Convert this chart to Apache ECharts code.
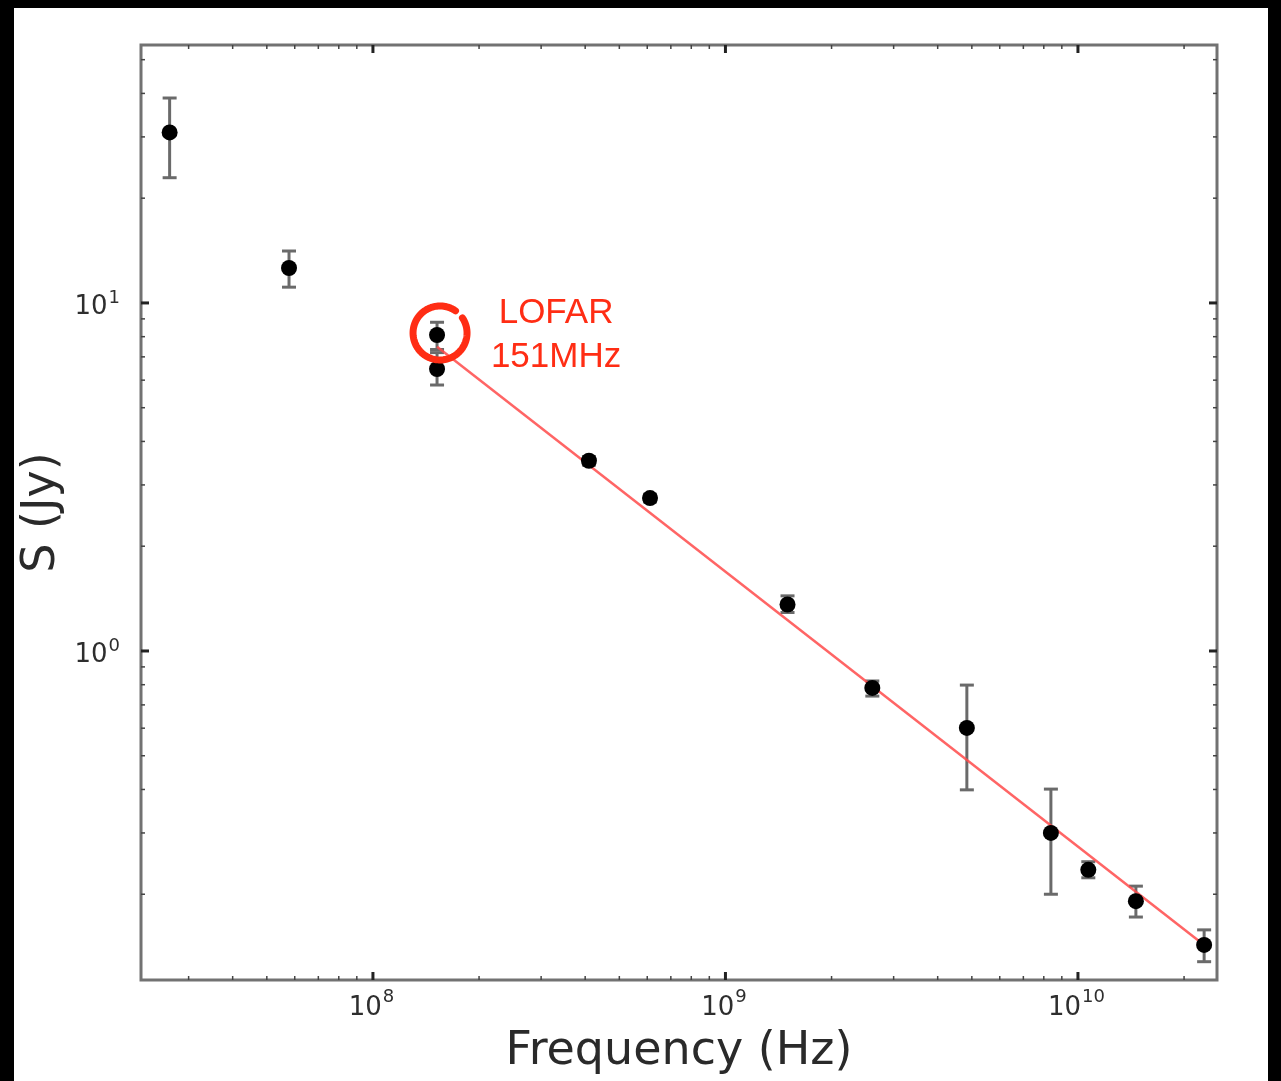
<!DOCTYPE html>
<html>
<head>
<meta charset="utf-8">
<script src="https://cdn.jsdelivr.net/npm/echarts/dist/echarts.min.js"></script>
<style>
html,body{margin:0;padding:0;background:#000;width:1281px;height:1081px;overflow:hidden;}
#bg{position:absolute;left:14px;top:8px;width:1254px;height:1073px;background:#fff;}
#chart{position:absolute;left:0;top:0;width:1281px;height:1081px;}
</style>
</head>
<body>
<div id="bg"></div>
<div id="chart"></div>
<script>
// ---- data ----
const freq    = [2.65e7, 5.78e7, 1.52e8, 1.52e8, 4.10e8, 6.11e8, 1.50e9, 2.61e9, 4.84e9, 8.38e9, 1.07e10, 1.46e10, 2.28e10];
const flux    = [30.9, 12.6, 8.09, 6.46, 3.52, 2.75, 1.36, 0.783, 0.601, 0.300, 0.235, 0.191, 0.143];
const errLow  = [22.9, 11.1, 7.35, 5.81, 3.42, 2.68, 1.29, 0.742, 0.399, 0.200, 0.223, 0.172, 0.128];
const errHigh = [38.8, 14.1, 8.80, 7.20, 3.62, 2.82, 1.44, 0.820, 0.798, 0.401, 0.248, 0.211, 0.158];
const fitFreq = [1.52e8, 2.28e10];
const fitFlux = [7.48, 0.143];
const lofarPoint = [1.52e8, 8.09];
const lofarText = ['LOFAR', '151MHz'];
// axis ranges and ticks
const xMin = 2.198e7, xMax = 2.48e10;
const yMin = 0.1134, yMax = 55.1;
const xMajor = [1e8, 1e9, 1e10];
const yMajor = [1, 10];
const xTitle = 'Frequency (Hz)';
const yTitle = 'S (Jy)';

function minorTicks(lo, hi) {
  const out = [];
  for (let e = Math.floor(Math.log10(lo)); e <= Math.ceil(Math.log10(hi)); e++) {
    for (let m = 2; m <= 9; m++) {
      const v = m * Math.pow(10, e);
      if (v > lo && v < hi) out.push(v);
    }
  }
  return out;
}
const xMinor = minorTicks(xMin, xMax);
const yMinor = minorTicks(yMin, yMax);

const FONT = '"DejaVu Sans", "Bitstream Vera Sans", sans-serif';
const mctx = document.createElement('canvas').getContext('2d');
function tw(t, size) { mctx.font = size + 'px ' + FONT; return mctx.measureText(t).width; }

const pts = freq.map((f, i) => [f, flux[i]]);
const errs = freq.map((f, i) => [f, errLow[i], errHigh[i]]);
const fit = fitFreq.map((f, i) => [f, fitFlux[i]]);

function renderAxes(params, api) {
  const cs = params.coordSys;
  const L = cs.x, T = cs.y, R = cs.x + cs.width, B = cs.y + cs.height;
  const ch = [];
  const line = (x1, y1, x2, y2, w, c) => ch.push({type: 'line', shape: {x1, y1, x2, y2}, style: {stroke: c, lineWidth: w}});
  const txt = (t, x, y, size, align, va) => ch.push({type: 'text', style: {text: t, x, y, fontSize: size, fontFamily: FONT, fill: '#2e2e2e', align, verticalAlign: va, textAlign: align, textVerticalAlign: va}});
  xMinor.forEach(v => { const x = api.coord([v, yMin])[0]; line(x, B, x, B - 4, 1.5, '#444'); line(x, T, x, T + 4, 1.5, '#444'); });
  yMinor.forEach(v => { const y = api.coord([xMin, v])[1]; line(L, y, L + 4, y, 1.5, '#444'); line(R, y, R - 4, y, 1.5, '#444'); });
  xMajor.forEach(v => {
    const x = api.coord([v, yMin])[0];
    line(x, B, x, B - 8, 3, '#222'); line(x, T, x, T + 8, 3, '#222');
    const ex = String(Math.round(Math.log10(v)));
    const bw = tw('10', 26), ew = tw(ex, 18);
    const left = x - (bw + ew) / 2 - 2;
    txt('10', left, B + 15, 26, 'left', 'top');
    txt(ex, left + bw + 1, B + 8, 18, 'left', 'top');
  });
  yMajor.forEach(v => {
    const y = api.coord([xMin, v])[1];
    line(L, y, L + 8, y, 3, '#222'); line(R, y, R - 8, y, 3, '#222');
    const ex = String(Math.round(Math.log10(v)));
    const ew = tw(ex, 18);
    txt(ex, L - 21, y - 14, 18, 'right', 'top');
    txt('10', L - 21 - ew - 1, y + 4, 26, 'right', 'middle');
  });
  return {type: 'group', children: ch};
}

function renderErr(params, api) {
  const x = api.value(0);
  const p1 = api.coord([x, api.value(1)]);
  const p2 = api.coord([x, api.value(2)]);
  const c = '#6a6a6a', w = 3, hw = 7;
  return {type: 'group', children: [
    {type: 'line', shape: {x1: p1[0], y1: p1[1], x2: p2[0], y2: p2[1]}, style: {stroke: c, lineWidth: w}},
    {type: 'line', shape: {x1: p1[0] - hw, y1: p1[1], x2: p1[0] + hw, y2: p1[1]}, style: {stroke: c, lineWidth: w}},
    {type: 'line', shape: {x1: p2[0] - hw, y1: p2[1], x2: p2[0] + hw, y2: p2[1]}, style: {stroke: c, lineWidth: w}}
  ]};
}

function renderNote(params, api) {
  const p = api.coord([api.value(0), api.value(1)]);
  const red = '#ff2d14';
  const d = Math.PI / 180;
  const cx = p[0] + 3, cy = p[1] - 2, r = 27;
  const ring = [];
  for (let a = -34; a <= 306; a += 3) ring.push([cx + r * Math.cos(a * d), cy + r * Math.sin(a * d)]);
  return {type: 'group', children: [
    {type: 'polyline', shape: {points: ring}, style: {stroke: red, lineWidth: 7, fill: null, lineCap: 'round', lineJoin: 'round'}},
    {type: 'text', style: {text: lofarText.join('\n'), x: p[0] + 119, y: p[1] + 0, fontSize: 35, lineHeight: 44,
      fontFamily: '"Liberation Sans", Arial, Helvetica, sans-serif', fill: red, align: 'center', verticalAlign: 'middle',
      textAlign: 'center', textVerticalAlign: 'middle'}}
  ]};
}

const chart = echarts.init(document.getElementById('chart'), null, {renderer: 'canvas'});
chart.setOption({
  backgroundColor: 'transparent',
  animation: false,
  grid: {left: 141, top: 45, right: 64, bottom: 101, show: true, borderColor: '#727272', borderWidth: 3, backgroundColor: 'transparent'},
  xAxis: {
    type: 'log', logBase: 10, min: xMin, max: xMax,
    name: xTitle, nameLocation: 'middle', nameGap: 49,
    nameTextStyle: {fontSize: 46, fontFamily: FONT, color: '#2a2a2a'},
    axisLine: {show: false}, axisTick: {show: false}, axisLabel: {show: false}, splitLine: {show: false}, minorTick: {show: false}
  },
  yAxis: {
    type: 'log', logBase: 10, min: yMin, max: yMax,
    name: yTitle, nameLocation: 'middle', nameGap: 76, nameRotate: 90,
    nameTextStyle: {fontSize: 46, fontFamily: FONT, color: '#2a2a2a'},
    axisLine: {show: false}, axisTick: {show: false}, axisLabel: {show: false}, splitLine: {show: false}, minorTick: {show: false}
  },
  series: [
    {type: 'custom', name: 'axes', data: [[xMin, yMin]], renderItem: renderAxes, clip: false, silent: true, z: 1},
    {type: 'custom', name: 'errors', data: errs, encode: {x: 0, y: [1, 2]}, renderItem: renderErr, clip: false, z: 2},
    {type: 'line', name: 'fit', data: fit, symbol: 'none', lineStyle: {color: '#ff4a4a', width: 2.5, opacity: 0.85}, z: 3},
    {type: 'scatter', name: 'flux', data: pts, symbol: 'circle', symbolSize: 16, itemStyle: {color: '#000', opacity: 1}, z: 4},
    {type: 'custom', name: 'note', data: [lofarPoint], renderItem: renderNote, clip: false, z: 5}
  ]
});
</script>
</body>
</html>
